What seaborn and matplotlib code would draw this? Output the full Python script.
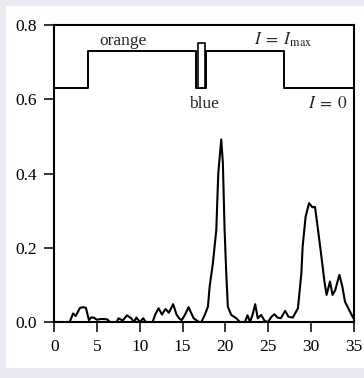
import numpy as np
import pandas as pd
import matplotlib
matplotlib.use("Agg")
import matplotlib.pyplot as plt
from matplotlib.patches import Rectangle
import seaborn as sns

# spectrum
wavelength = [0.0, 1.8, 2.2, 2.5, 3.0, 3.4, 3.7, 4.05, 4.3, 4.6, 5.0, 5.4, 5.8, 6.2, 6.5, 7.3,
              7.5, 8.0, 8.5, 9.0, 9.3, 9.6, 10.0, 10.4, 10.7, 11.5, 11.8, 12.2, 12.6, 13.0,
              13.4, 13.9, 14.3, 14.6, 14.9, 15.3, 15.7, 16.0, 16.3, 16.9, 17.2, 17.6, 17.97,
              18.17, 18.55, 18.95, 19.18, 19.53, 19.72, 19.92, 20.1, 20.3, 20.7, 21.3,
              21.7, 22.3, 22.6, 22.9, 23.2, 23.5, 23.8, 24.2, 24.6, 25.0, 25.4, 25.75, 26.1,
              26.5, 27.0, 27.4, 27.9, 28.5, 28.9, 29.05, 29.4, 29.8, 30.2, 30.5, 30.8, 31.2,
              31.6, 31.85, 32.25, 32.55, 32.85, 33.35, 33.7, 34.0, 34.5, 34.9, 35.0]
intensity = [0.0, 0.0, 0.023, 0.016, 0.038, 0.04, 0.038, 0.005, 0.012, 0.012, 0.006, 0.008, 0.008, 0.007, 0.0, 0.0,
             0.01, 0.004, 0.018, 0.01, 0.0, 0.012, 0.0, 0.01, 0.0, 0.0, 0.02, 0.037, 0.02, 0.035,
             0.025, 0.048, 0.02, 0.01, 0.005, 0.02, 0.04, 0.025, 0.01, 0.0, 0.0, 0.019, 0.041,
             0.095, 0.158, 0.248, 0.40, 0.492, 0.428, 0.248, 0.14, 0.041, 0.019, 0.01,
             0.0, 0.0, 0.018, 0.0, 0.02, 0.048, 0.01, 0.019, 0.003, 0.0, 0.014, 0.021, 0.012,
             0.01, 0.03, 0.014, 0.012, 0.037, 0.131, 0.203, 0.284, 0.32, 0.309, 0.31, 0.257, 0.185,
             0.109, 0.073, 0.109, 0.073, 0.085, 0.127, 0.095, 0.055, 0.032, 0.014, 0.01]

# filter masks drawn above the spectrum
orange_x = [0.0, 3.9, 3.9, 16.6, 16.6, 17.7, 17.7, 26.9, 26.9, 35.0]
orange_y = [0.630, 0.630, 0.731, 0.731, 0.630, 0.630, 0.731, 0.731, 0.630, 0.630]
blue_x = [16.8, 16.8, 17.6, 17.6]
blue_y = [0.630, 0.751, 0.751, 0.630]

sns.set_theme(style="white")
plt.rcParams["font.family"] = ["Liberation Serif", "DejaVu Serif"]
plt.rcParams["mathtext.fontset"] = "stix"

fig = plt.figure(figsize=(3.64, 3.78), dpi=100, facecolor="#EAEAF2")
fig.patches.append(Rectangle((6 / 364, 10 / 378), 2, 362 / 378, transform=fig.transFigure,
                             facecolor="white", edgecolor="none", zorder=-1))
ax = fig.add_axes([54.3 / 364, (378 - 322) / 378, (353.5 - 54.3) / 364, (322 - 25) / 378])
ax.set_facecolor("white")

spec = pd.DataFrame({"x": wavelength, "y": intensity})
sns.lineplot(data=spec, x="x", y="y", ax=ax, color="black", lw=1.5, estimator=None, sort=False)
sns.lineplot(x=orange_x, y=orange_y, ax=ax, color="black", lw=1.4, estimator=None, sort=False)
sns.lineplot(x=blue_x, y=blue_y, ax=ax, color="black", lw=1.2, estimator=None, sort=False)

ax.set_xlim(0, 35)
ax.set_ylim(0, 0.8)
ax.set_xticks(np.arange(0, 36, 5))
ax.set_yticks([0.0, 0.2, 0.4, 0.6, 0.8])
ax.set_yticklabels(["0.0", "0.2", "0.4", "0.6", "0.8"])
ax.set_xlabel("")
ax.set_ylabel("")
ax.tick_params(axis="both", direction="out", length=7.5, width=1.1, color="black",
               labelsize=12.5, labelcolor="black", pad=5)
ax.tick_params(axis="x", bottom=True, top=False, length=7)
ax.tick_params(axis="y", left=True, right=False)
for s in ax.spines.values():
    s.set_visible(True)
    s.set_color("black")
    s.set_linewidth(1.5)

ax.text(8.1, 0.747, "orange", ha="center", va="baseline", fontsize=12.5)
ax.text(23.4, 0.747, r"$I\;=\;I_{\rm max}$", ha="left", va="baseline", fontsize=12.5)
ax.text(17.5, 0.577, "blue", ha="center", va="baseline", fontsize=12.5)
ax.text(34.4, 0.577, r"$I\;=\;0$", ha="right", va="baseline", fontsize=12.5)

fig.savefig("out.png", dpi=100, facecolor=fig.get_facecolor())
